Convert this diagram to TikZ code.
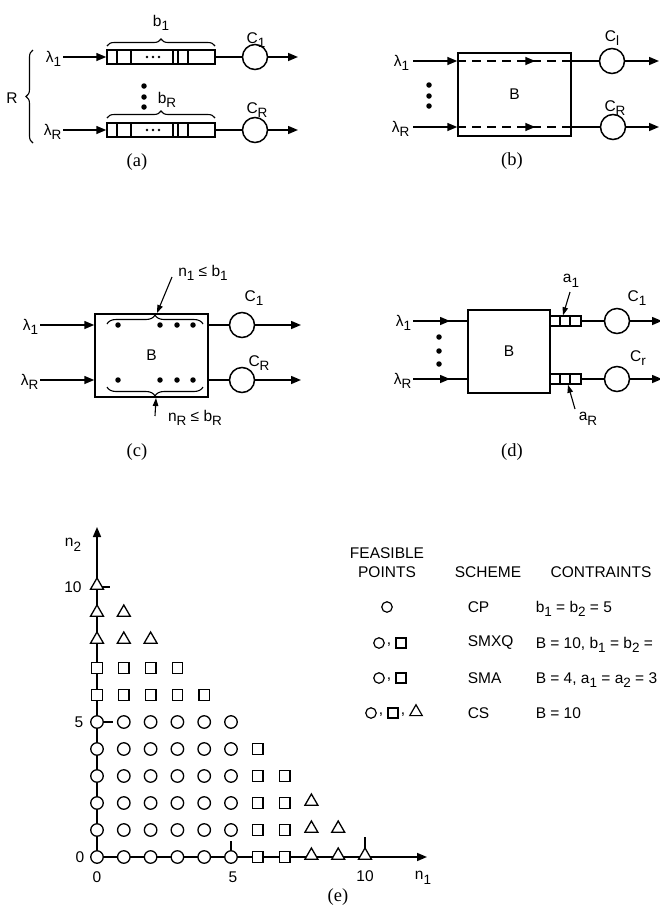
\documentclass[tikz,border=0pt]{standalone}
\usepackage{fontspec}
\setmainfont{Liberation Sans}
\newfontfamily\capfont{Liberation Serif}
\usetikzlibrary{arrows.meta,decorations.pathreplacing,shapes.geometric}
\newcommand\sbs[1]{\raisebox{-0.55ex}{\fontsize{13.5}{13.5}\selectfont #1}}
\begin{document}
\begin{tikzpicture}[x=1pt,y=-1pt,line width=1.5pt,
  lbl/.style={font=\fontsize{15.5}{15.5}\selectfont,inner sep=1pt},
  leg/.style={font=\fontsize{15.5}{15.5}\selectfont,inner sep=1pt},
  legl/.style={leg,anchor=west},
  capt/.style={font=\capfont\fontsize{18.5}{18.5}\selectfont},
  server/.style={circle,draw,minimum size=25pt,inner sep=0pt},
  bigbox/.style={draw,rectangle,inner sep=0pt,font=\fontsize{15.5}{15.5}\selectfont},
  qbox/.style={draw,rectangle,inner sep=0pt},
  arr/.style={-{Triangle[length=10pt,width=8pt]}},
  sarr/.style={line width=1.1pt,-{Triangle[length=8pt,width=5.5pt]}},
  brc/.style={decorate,decoration={brace,amplitude=7pt},line width=1.1pt},
  vdot/.style={circle,fill,inner sep=0pt,minimum size=5.5pt},
  sdot/.style={circle,fill,inner sep=0pt,minimum size=2.8pt},
  pc/.style={circle,draw,fill=white,inner sep=0pt,minimum size=12.5pt,line width=1.3pt},
  ps/.style={rectangle,draw,fill=white,inner sep=0pt,minimum size=10.5pt,line width=1.3pt},
  pt/.style={regular polygon,regular polygon sides=3,draw,fill=white,inner sep=0pt,minimum size=15pt,line width=1.3pt},
  lc/.style={circle,draw,inner sep=0pt,minimum size=10.5pt,line width=1.2pt},
  lsq/.style={rectangle,draw,inner sep=0pt,minimum size=10pt,line width=1.2pt},
  ltr/.style={regular polygon,regular polygon sides=3,draw,inner sep=0pt,minimum size=14.5pt,line width=1.2pt}
]
\useasboundingbox (0,0) rectangle (660,906);

% ================= (a) =================
\node[qbox,minimum width=108pt,minimum height=14pt] (qa1) at (161,57) {};
\node[qbox,minimum width=108pt,minimum height=14pt] (qaR) at (161,130) {};
\foreach \xx in {117,131,173,178,188}{
  \draw (\xx,50) -- (\xx,64);
  \draw (\xx,123) -- (\xx,137);
}
\foreach \xx in {147,153,159}{
  \node[sdot] at (\xx,57) {};
  \node[sdot] at (\xx,130) {};
}
\node[server] (ca1) at (255,57) {};
\node[server] (caR) at (255,130) {};
\node[lbl,anchor=east] (la1) at (63,59) {λ\sbs{1}};
\node[lbl,anchor=east] (laR) at (63,132) {λ\sbs{R}};
\draw[arr] (qa1.west -| la1.east) -- (qa1.west);
\draw[arr] (qaR.west -| laR.east) -- (qaR.west);
\draw (qa1.east) -- (ca1.west);
\draw (qaR.east) -- (caR.west);
\coordinate (oa1) at (298,57);
\coordinate (oaR) at (298,130);
\draw[arr] (ca1.east) -- (oa1);
\draw[arr] (caR.east) -- (oaR);
\node[lbl] at (256,40) {C\sbs{1}};
\node[lbl] at (257,110) {C\sbs{R}};
\draw[brc] (107,46) -- (215,46);
\node[lbl] at (161,23) {b\sbs{1}};
\draw[brc] (107,118) -- (215,118);
\node[lbl] at (167,100) {b\sbs{R}};
\node[vdot] at (144,86) {};
\node[vdot] at (144,97) {};
\node[vdot] at (144,107) {};
\draw[brc] (33,143) -- (33,50);
\node[lbl] at (12,98) {R};
\node[capt] at (137,162) {(a)};

% ================= (b) =================
\node[bigbox,minimum width=113pt,minimum height=83pt] (Bb) at (514.5,94.5) {B};
\node[server] (cb1) at (612,61) {};
\node[server] (cbR) at (613,127) {};
\node[lbl,anchor=east] (lb1) at (411,63) {λ\sbs{1}};
\node[lbl,anchor=east] (lbR) at (411,129) {λ\sbs{R}};
\draw[arr] (Bb.west |- cb1) ++(-44,0) -- (Bb.west |- cb1);
\draw[arr] (Bb.west |- cbR) ++(-44,0) -- (Bb.west |- cbR);
\draw[dash pattern=on 9pt off 6pt] (Bb.west |- cb1) -- (Bb.east |- cb1);
\draw[dash pattern=on 9pt off 6pt] (Bb.west |- cbR) -- (Bb.east |- cbR);
\draw[arr] (Bb.west |- cb1) ++(62,0) -- ++(16,0);
\draw[arr] (Bb.west |- cbR) ++(62,0) -- ++(16,0);
\draw (Bb.east |- cb1) -- (cb1.west);
\draw (Bb.east |- cbR) -- (cbR.west);
\coordinate (ob1) at (659,61);
\coordinate (obR) at (659,127);
\draw[arr] (cb1.east) -- (ob1);
\draw[arr] (cbR.east) -- (obR);
\node[lbl] at (612,38) {C\sbs{l}};
\node[lbl] at (615,108) {C\sbs{R}};
\node[vdot] at (429,85) {};
\node[vdot] at (429,96) {};
\node[vdot] at (429,106) {};
\node[capt] at (512,161) {(b)};

% ================= (c) =================
\node[bigbox,minimum width=113pt,minimum height=83pt] (Bc) at (151.5,355.5) {B};
\node[server] (cc1) at (242,325) {};
\node[server] (ccR) at (242,380) {};
\node[lbl,anchor=east] (lc1) at (40,327) {λ\sbs{1}};
\node[lbl,anchor=east] (lcR) at (40,382) {λ\sbs{R}};
\draw[arr] (cc1 -| lc1.east) -- (cc1 -| Bc.west);
\draw[arr] (ccR -| lcR.east) -- (ccR -| Bc.west);
\draw (cc1 -| Bc.east) -- (cc1.west);
\draw (ccR -| Bc.east) -- (ccR.west);
\coordinate (oc1) at (301,325);
\coordinate (ocR) at (301,380);
\draw[arr] (cc1.east) -- (oc1);
\draw[arr] (ccR.east) -- (ocR);
\node[lbl] at (254,298) {C\sbs{1}};
\node[lbl] at (259,363) {C\sbs{R}};
\draw[brc,decoration={amplitude=9pt}] (107,324) -- (203,324);
\draw[brc,decoration={amplitude=9pt}] (203,387) -- (107,387);
\foreach \xx in {118,160,177,193}{
  \node[vdot] at (\xx,325) {};
  \node[vdot] at (\xx,380) {};
}
\node[lbl] (n1l) at (203,273) {n\sbs{1} ≤ b\sbs{1}};
\coordinate (tc1) at (157,313);
\draw[sarr] (172,277) -- (tc1);
\node[lbl] (nRl) at (195,418) {n\sbs{R} ≤ b\sbs{R}};
\coordinate (tcR) at (156,398);
\draw[sarr] (155,416) -- (tcR);
\node[capt] at (137,452) {(c)};

% ================= (d) =================
\node[bigbox,minimum width=82pt,minimum height=83pt] (Bd) at (509,351.5) {B};
\node[qbox,minimum width=31pt,minimum height=10pt] (qd1) at (565.5,321) {};
\node[qbox,minimum width=31pt,minimum height=10pt] (qdR) at (565.5,379) {};
\foreach \xx in {560,570}{
  \draw (\xx,316) -- (\xx,326);
  \draw (\xx,374) -- (\xx,384);
}
\node[server] (cd1) at (617,321) {};
\node[server] (cdR) at (617,379) {};
\node[lbl,anchor=east] (ld1) at (413,323) {λ\sbs{1}};
\node[lbl,anchor=east] (ldR) at (413,381) {λ\sbs{R}};
\draw (qd1 -| ld1.east) -- (qd1 -| Bd.west);
\draw (qdR -| ldR.east) -- (qdR -| Bd.west);
\draw[arr] (qd1 -| ld1.east) -- ++(37,0);
\draw[arr] (qdR -| ldR.east) -- ++(37,0);
\draw (qd1.east) -- (cd1.west);
\draw (qdR.east) -- (cdR.west);
\coordinate (od1) at (662,321);
\coordinate (odR) at (662,379);
\draw[arr] (cd1.east) -- (od1);
\draw[arr] (cdR.east) -- (odR);
\node[lbl] at (637,298) {C\sbs{1}};
\node[lbl] at (638,358) {C\sbs{r}};
\node[vdot] at (439,337) {};
\node[vdot] at (439,351) {};
\node[vdot] at (439,364) {};
\node[lbl] (a1l) at (571,281) {a\sbs{1}};
\draw[sarr] (570,292) -- (qd1.north -| 563,0);
\node[lbl] (aRl) at (588,419) {a\sbs{R}};
\draw[sarr] (575,409) -- (qdR.south -| 568,0);
\node[capt] at (512,452) {(d)};

% ================= (e) =================
\coordinate (O) at (97,857);
\coordinate (ytip) at (97,527);
\coordinate (xtip) at (427,857);
\draw[line width=1.6pt,arr] (O) -- (ytip);
\draw[line width=1.6pt,arr] (O) -- (xtip);
\draw (97,722) -- (113,722);
\draw (97,587) -- (110,587);
\draw (231,857) -- (231,841);
\draw (365,857) -- (365,837);
\foreach \i in {0,...,5}{
  \foreach \j in {0,...,5}{
    \node[pc] at ({97+26.8*\i},{857-27*\j}) {};
  }
}
\foreach \i/\j in {6/0,7/0,6/1,7/1,6/2,7/2,6/3,7/3,6/4,0/6,1/6,2/6,3/6,4/6,0/7,1/7,2/7,3/7}{
  \node[ps] at ({97+26.8*\i},{857-27*\j}) {};
}
\foreach \i/\j in {8/0,9/0,10/0,8/1,9/1,8/2,0/8,1/8,2/8,0/9,1/9,0/10}{
  \node[pt] at ({97+26.8*\i},{857-27*\j-1.5}) {};
}
\node[lbl] at (80,857) {0};
\node[lbl] at (97,877) {0};
\node[lbl] at (233,877) {5};
\node[lbl] at (365,876) {10};
\node[lbl] at (423,878) {n\sbs{1}};
\node[lbl] at (79,722) {5};
\node[lbl] at (73,587) {10};
\node[lbl] at (73,545) {n\sbs{2}};
\node[capt] at (338,897) {(e)};

% legend
\node[leg] at (387,553) {FEASIBLE};
\node[leg] at (387,572) {POINTS};
\node[leg] at (488,572) {SCHEME};
\node[leg] at (601,572) {CONTRAINTS};
\node[lc] at (387,607) {};
\node[lc] at (379,643) {};
\node[leg] at (389,645) {,};
\node[lsq] at (401,643) {};
\node[lc] at (379,678) {};
\node[leg] at (389,680) {,};
\node[lsq] at (401,678) {};
\node[lc] at (371,713) {};
\node[leg] at (381,715) {,};
\node[lsq] at (393,713) {};
\node[leg] at (403,715) {,};
\node[ltr] at (416,712) {};
\node[legl] at (466,607) {CP};
\node[legl] at (466,643) {SMXQ};
\node[legl] at (466,678) {SMA};
\node[legl] at (466,713) {CS};
\node[legl] at (534,609) {b\sbs{1} = b\sbs{2} = 5};
\node[legl] at (534,645) {B = 10, b\sbs{1} = b\sbs{2} =};
\node[legl] at (534,680) {B = 4, a\sbs{1} = a\sbs{2} = 3};
\node[legl] at (534,713) {B = 10};
\end{tikzpicture}
\end{document}
